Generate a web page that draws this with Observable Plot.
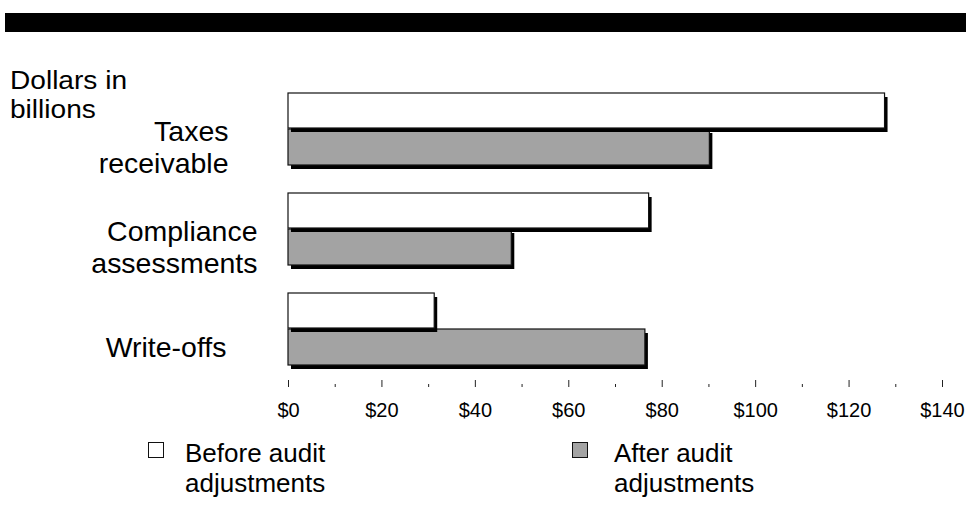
<!DOCTYPE html>
<html>
<head>
<meta charset="utf-8">
<script src="https://cdn.jsdelivr.net/npm/d3@7"></script>
<script src="https://cdn.jsdelivr.net/npm/@observablehq/plot@0.6"></script>
<style>
  html, body { margin: 0; padding: 0; background: #fff; }
  body { width: 966px; height: 525px; position: relative; overflow: hidden;
         font-family: "Liberation Sans", Arial, sans-serif; color: #000; }
  #topbar { position: absolute; left: 5px; top: 13px; width: 961px; height: 19px; background: #000; }
  #unit { position: absolute; left: 10px; top: 66px; font-size: 26px; line-height: 29px; white-space: pre;
          transform: scaleX(1.08); transform-origin: 0 0; }
  #chart { position: absolute; left: 0; top: 0; }
  .sw { position: absolute; width: 14px; height: 14px; border: 1.5px solid #111; }
  .lt { position: absolute; font-size: 26px; line-height: 30px; white-space: pre; }
</style>
</head>
<body>
<div id="topbar"></div>
<div id="chart"></div>
<div id="unit">Dollars in
billions</div>
<div id="legend"></div>
<script>
// ---- Data ----
const categories = ["Taxes\nreceivable", "Compliance\nassessments", "Write-offs"];
const beforeValues = [127.7, 77.2, 31.3];
const afterValues = [90.2, 47.8, 76.4];
const seriesNames = ["Before audit\nadjustments", "After audit\nadjustments"];
const seriesColors = ["#ffffff", "#a3a3a3"];
const xTicks = [0, 20, 40, 60, 80, 100, 120, 140];
const xTickLabels = ["$0", "$20", "$40", "$60", "$80", "$100", "$120", "$140"];
const xMinorTicks = [10, 30, 50, 70, 90, 110, 130];

// ---- Layout / styling (not data) ----
const labelDx = [-60, -31, -62];
const LABEL_STRETCH = 1.055;
const FONT = "Liberation Sans, Arial, sans-serif";

const beforeRows = categories.map((c, i) => ({category: c, value: beforeValues[i]}));
const afterRows = categories.map((c, i) => ({category: c, value: afterValues[i]}));

const barStroke = {stroke: "#111", strokeWidth: 1.2};

const chart = Plot.plot({
  width: 966,
  height: 525,
  marginLeft: 288,
  marginRight: 24,
  marginTop: 93,
  marginBottom: 145,
  style: {fontFamily: FONT, background: "transparent", overflow: "visible"},
  x: {domain: [0, 140], axis: null},
  y: {domain: categories, range: [93, 365], paddingInner: 0.28, paddingOuter: 0, round: false, axis: null},
  marks: [
    // after-audit bars with shadow
    Plot.barX(afterRows, {x: "value", y: "category", insetTop: 36, dx: 3, dy: 4, fill: "#000"}),
    Plot.barX(afterRows, {x: "value", y: "category", insetTop: 36, fill: seriesColors[1], ...barStroke}),
    // before-audit bars with shadow
    Plot.barX(beforeRows, {x: "value", y: "category", insetBottom: 37, dx: 3, dy: 4, fill: "#000"}),
    Plot.barX(beforeRows, {x: "value", y: "category", insetBottom: 37, fill: seriesColors[0], ...barStroke}),
    // x axis
    Plot.axisX(xTicks, {anchor: "bottom", label: null, tickSize: 7, tickPadding: 15, fontSize: 20, stroke: "#222",
      tickFormat: d => xTickLabels[xTicks.indexOf(d)]}),
    Plot.axisX(xMinorTicks, {anchor: "bottom", label: null, tickSize: 3, dy: 4, stroke: "#222", tickFormat: () => ""}),
    // category labels
    ...categories.map((c, i) => Plot.text([c], {
      y: d => d, text: d => d, frameAnchor: "left", textAnchor: "end",
      dx: labelDx[i], dy: 17, lineHeight: 1.22, fontSize: 27, fill: "#000", ariaLabel: "category-label"
    }))
  ]
});
// widen the category labels slightly around their anchor to match the reference lettering
const labelLines = new Set(categories.flatMap(c => c.split("\n")));
const labelTexts = Array.from(chart.querySelectorAll("text")).filter(t => {
  const spans = t.querySelectorAll("tspan");
  const parts = spans.length ? Array.from(spans).map(s => s.textContent) : [t.textContent];
  return parts.some(p => labelLines.has(p.trim()));
});
labelTexts.forEach(t => {
  const tr = t.getAttribute("transform");
  if (tr) {
    t.setAttribute("transform", tr + ` scale(${LABEL_STRETCH},1)`);
  } else {
    const x = +t.getAttribute("x") || 0, y = +t.getAttribute("y") || 0;
    t.setAttribute("transform", `translate(${x},${y}) scale(${LABEL_STRETCH},1) translate(${-x},${-y})`);
  }
});
document.getElementById("chart").appendChild(chart);

// ---- Legend ----
const legend = document.getElementById("legend");
const legendPos = [{sx: 148, tx: 185}, {sx: 572, tx: 614}];
seriesNames.forEach((name, i) => {
  const sw = document.createElement("div");
  sw.className = "sw";
  sw.style.left = legendPos[i].sx + "px";
  sw.style.top = "442px";
  sw.style.background = seriesColors[i];
  legend.appendChild(sw);
  const t = document.createElement("div");
  t.className = "lt";
  t.style.left = legendPos[i].tx + "px";
  t.style.top = "438px";
  t.textContent = name;
  legend.appendChild(t);
});
</script>
</body>
</html>
